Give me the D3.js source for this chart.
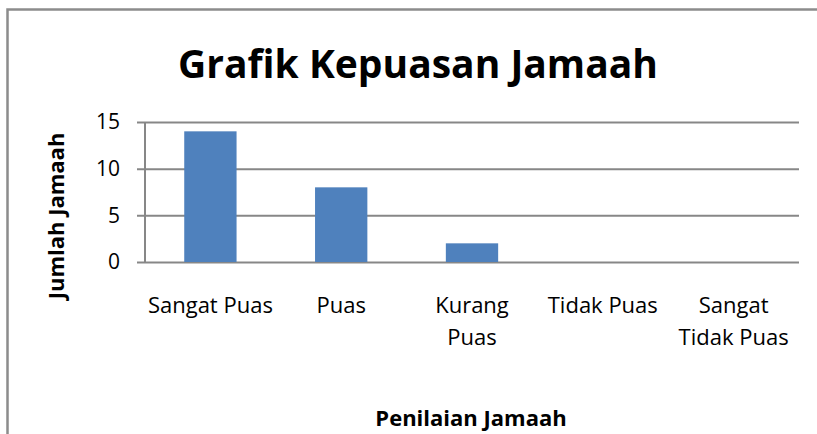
<!DOCTYPE html>
<html>

<head>
    <meta charset="utf-8">
    <script src="https://d3js.org/d3.v7.min.js"></script>
    <style>
        body { margin: 0; background: #fff; }
        text { font-family: "Open Sans", sans-serif; fill: #000; }
    </style>
</head>

<body>
</body>

<script>
    // data
    let categories = ["Sangat Puas", "Puas", "Kurang Puas", "Tidak Puas", "Sangat Tidak Puas"];
    let labelLines = [["Sangat Puas"], ["Puas"], ["Kurang", "Puas"], ["Tidak Puas"], ["Sangat", "Tidak Puas"]];
    let values = [14, 8, 2, 0, 0];
    let yTicks = [0, 5, 10, 15];

    let width = 817, height = 434;
    let plot = {left: 145, right: 799, top: 122, bottom: 262};

    let svg = d3.select("body")
        .append("svg")
            .attr("width", width)
            .attr("height", height);

    // outer chart frame (right and bottom edges fall outside the picture)
    svg.append("rect")
        .attr("x", 7.5)
        .attr("y", 9.5)
        .attr("width", width + 20)
        .attr("height", height + 20)
        .attr("fill", "none")
        .attr("stroke", "#8c8c8c")
        .attr("stroke-width", 2.5);

    let x = d3.scaleBand()
        .domain(categories)
        .range([plot.left, plot.right])
        .paddingInner(0.6)
        .paddingOuter(0.3);

    let y = d3.scaleLinear()
        .domain([0, 15])
        .range([plot.bottom, plot.top]);

    // gridlines + y tick marks
    let yAxis = d3.axisLeft(y)
        .tickValues(yTicks)
        .tickSize(-(plot.right - plot.left))
        .tickFormat(d3.format("d"));

    let gy = svg.append("g")
        .attr("transform", `translate(${plot.left},0)`)
        .call(yAxis);
    gy.select(".domain").remove();
    gy.selectAll(".tick line")
        .attr("x1", -8)
        .attr("stroke", "#878787")
        .attr("stroke-width", 2);
    gy.selectAll(".tick text")
        .attr("x", -25)
        .style("font-size", "21px")
        .style("font-family", "Open Sans");

    // vertical axis line
    svg.append("line")
        .attr("x1", plot.left).attr("x2", plot.left)
        .attr("y1", plot.top).attr("y2", plot.bottom)
        .attr("stroke", "#878787")
        .attr("stroke-width", 2);

    // bars
    svg.append("g")
        .selectAll("rect")
        .data(values)
        .join("rect")
            .attr("x", (d, i) => x(categories[i]))
            .attr("y", d => y(d))
            .attr("width", x.bandwidth())
            .attr("height", d => y(0) - y(d))
            .attr("fill", "#4f81bd");

    // category labels
    let cat = svg.append("g")
        .selectAll("text")
        .data(labelLines)
        .join("text")
            .attr("text-anchor", "middle")
            .attr("x", (d, i) => x(categories[i]) + x.bandwidth() / 2)
            .attr("y", 313)
            .style("font-size", "22px");
    cat.selectAll("tspan")
        .data(d => d)
        .join("tspan")
            .attr("x", function () { return d3.select(this.parentNode).attr("x"); })
            .attr("dy", (d, i) => i === 0 ? 0 : 32)
            .text(d => d);

    // title
    svg.append("text")
        .attr("x", 418)
        .attr("y", 78)
        .attr("text-anchor", "middle")
        .style("font-size", "39px")
        .style("font-weight", "bold")
        .text("Grafik Kepuasan Jamaah");

    // axis titles
    svg.append("text")
        .attr("transform", "translate(64,216) rotate(-90)")
        .attr("text-anchor", "middle")
        .style("font-size", "22px")
        .style("font-weight", "bold")
        .text("Jumlah Jamaah");

    svg.append("text")
        .attr("x", 471)
        .attr("y", 426)
        .attr("text-anchor", "middle")
        .style("font-size", "22px")
        .style("font-weight", "bold")
        .text("Penilaian Jamaah");
</script>

</html>
